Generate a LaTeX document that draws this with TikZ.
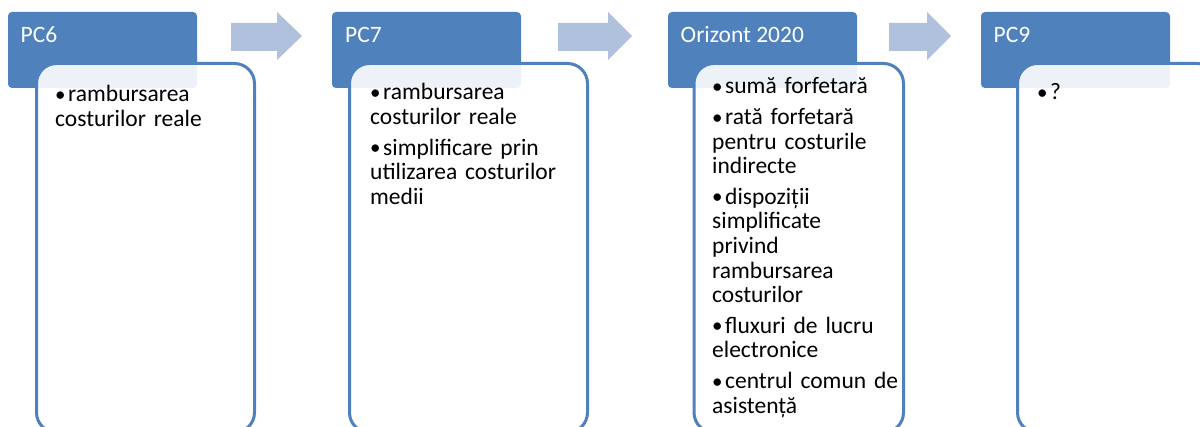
\documentclass[tikz,border=0pt]{standalone}
\usepackage{fontspec}
\setmainfont{Carlito}
\definecolor{acc}{HTML}{4F81BD}
\definecolor{arr}{HTML}{B0C1DE}
\newcommand{\bulsym}{\makebox[13pt][l]{\raisebox{0.5pt}{\fontsize{21}{21}\selectfont •}}}
\newcommand{\fb}[1]{\hangindent=13pt\hangafter=1\noindent\bulsym#1}
\newcommand{\nb}[1]{\par\vspace{6pt}\hangindent=13pt\hangafter=1\noindent\bulsym#1}
\newcommand{\tightspace}{\spaceskip=5.6pt\xspaceskip=5.6pt}
\tikzset{
  hdr/.style={fill=acc, rounded corners=4pt, minimum width=189pt, minimum height=76pt, anchor=north west, inner sep=0pt, outer sep=0pt},
  bodybox/.style={draw=acc, line width=3pt, fill=white, fill opacity=0.9, rounded corners=20pt, minimum height=369pt, anchor=north west, inner sep=0pt, outer sep=0pt},
  htxt/.style={anchor=base west, inner sep=0pt, text=white, font=\fontsize{23.5}{27}\selectfont},
  btxt/.style={anchor=base west, inner sep=0pt, text=black, text width=230pt, font=\fontsize{23.5}{24.6}\selectfont\raggedright\tightspace},
  blockarrow/.style={fill=arr, draw=none}
}
\begin{document}
\begin{tikzpicture}[x=1pt,y=-1pt]
\useasboundingbox (0,0) rectangle (1200,427);
\clip (0,0) rectangle (1200,427);
% arrows
\fill[blockarrow] (231,23) -- (277,23) -- (277,12) -- (302,36) -- (277,60) -- (277,51) -- (231,51) -- cycle;
\fill[blockarrow] (558,23) -- (608,23) -- (608,12) -- (632,36) -- (608,60) -- (608,51) -- (558,51) -- cycle;
\fill[blockarrow] (889,23) -- (927,23) -- (927,12) -- (951,36) -- (927,60) -- (927,51) -- (889,51) -- cycle;
% headers
\node[hdr] (h1) at (8,12) {};
\node[hdr] (h2) at (332,12) {};
\node[hdr] (h3) at (668,12) {};
\node[hdr] (h4) at (981,12) {};
% bodies
\node[bodybox, minimum width=218pt] (b1) at (36.5,63.5) {};
\node[bodybox, minimum width=238pt] (b2) at (349.5,63.5) {};
\node[bodybox, minimum width=209.5pt] (b3) at (694,63.5) {};
\node[bodybox, minimum width=200pt] (b4) at (1017.5,63.5) {};
% header texts
\node[htxt] (t1) at (20.5,43) {PC6};
\node[htxt] (t2) at (345,43) {PC7};
\node[htxt] (t3) at (680.5,43) {Orizont 2020};
\node[htxt] (t4) at (993.5,43) {PC9};
% body texts
\node[btxt] (x1) at (55,102) {\fb{rambursarea\\costurilor reale}};
\node[btxt] (x2) at (370,100) {\fb{rambursarea\\costurilor reale}\nb{simplificare prin\\utilizarea costurilor\\medii}};
\node[btxt] (x3) at (712,94) {\fb{sumă forfetară}\nb{rată forfetară\\pentru costurile\\indirecte}\nb{dispoziții\\simplificate\\privind\\rambursarea\\costurilor}\nb{fluxuri de lucru\\electronice}\nb{centrul comun de\\asistență}};
\node[btxt] (x4) at (1037,100) {\fb{?}};
\end{tikzpicture}
\end{document}
